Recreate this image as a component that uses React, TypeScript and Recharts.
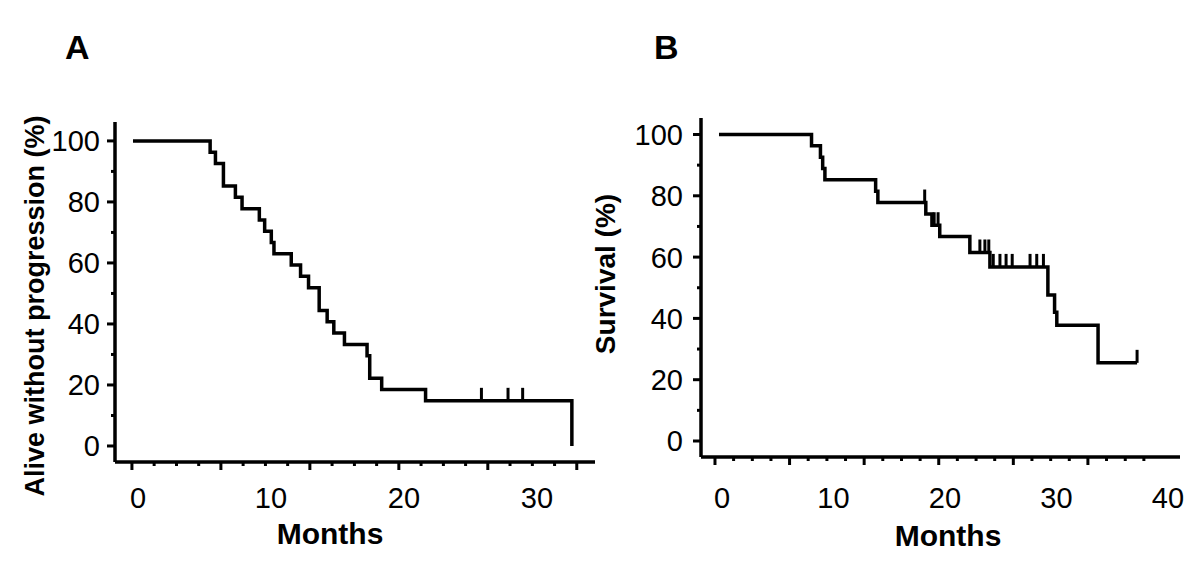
import React from "react";
import { ComposedChart, Line, Scatter, XAxis, YAxis, Label } from "recharts";

const FONT = "'Liberation Sans', Arial, Helvetica, sans-serif";

// Panel A: alive without progression
const pfsMonths = [0, 5.8, 6.2, 6.8, 7.7, 8.2, 9.5, 9.9, 10.4, 10.6, 11.9, 12.6, 13.2, 14.0, 14.6, 15.1, 15.9, 17.6, 17.8, 18.7, 22.0, 33.0];
const pfsPercent = [100, 96.3, 92.6, 85.2, 81.5, 77.8, 74.1, 70.4, 66.7, 63.0, 59.3, 55.6, 51.9, 44.4, 40.7, 37.0, 33.3, 29.6, 22.2, 18.5, 14.8, 0];
const pfsCensorMonths = [26.2, 28.2, 29.3];
const pfsCensorPercent = [14.8, 14.8, 14.8];

// Panel B: survival
const osMonths = [0, 8.3, 9.1, 9.3, 9.5, 14.05, 14.25, 18.55, 19.1, 19.8, 22.5, 24.3, 29.5, 30.1, 30.3, 34.0, 37.5];
const osPercent = [100, 96.3, 92.6, 88.9, 85.2, 81.5, 77.8, 74.1, 70.4, 66.7, 61.5, 56.8, 47.6, 42.0, 37.8, 25.5, 25.5];
const osCensorMonths = [18.45, 19.3, 19.65, 23.4, 23.85, 24.2, 24.6, 25.2, 25.75, 26.3, 27.9, 28.5, 29.1, 37.5];
const osCensorPercent = [77.8, 70.4, 70.4, 61.5, 61.5, 61.5, 56.8, 56.8, 56.8, 56.8, 56.8, 56.8, 56.8, 25.5];

// axes
const yTicks = [0, 10, 20, 30, 40, 50, 60, 70, 80, 90, 100];
const yLabels = [0, 20, 40, 60, 80, 100];
const pfsXLabels = [0, 10, 20, 30];
const pfsMajorMarks = [-0.08, 6.61, 13.3, 19.99, 26.68, 33.37];
const pfsMinorMarks = [1.59, 3.27, 4.94, 8.28, 9.96, 11.63, 14.97, 16.65, 18.32, 21.66, 23.34, 25.01, 28.35, 30.03, 31.7];
const osXLabels = [0, 10, 20, 30, 40];
const osMajorMarks = [-0.36, 6.33, 13.02, 19.71, 26.4, 33.09];
const osMinorMarks = [1.31, 2.99, 4.66, 8.0, 9.68, 11.35, 14.69, 16.37, 18.04, 21.38, 23.06, 24.73, 28.07, 29.75, 31.42, 34.76, 36.44, 38.11];

const toRows = (t: number[], s: number[]) => t.map((m, i) => ({ t: m, s: s[i] }));

const makeYTick = (gap: number) => (props: any) => {
  const { x, y, payload } = props;
  const v = payload.value;
  const major = yLabels.includes(v);
  return (
    <g>
      <line x1={x} x2={x - (major ? 8 : 4)} y1={y} y2={y} stroke="#000" strokeWidth={3} />
      {major && (
        <text x={x - gap} y={y} dy="0.36em" textAnchor="end" fontSize={29} fontFamily={FONT} fill="#000">
          {v}
        </text>
      )}
    </g>
  );
};

const makeXTick = (labels: number[], majors: number[], shift: number, drop: number) => (props: any) => {
  const { x, y, payload } = props;
  const v = payload.value;
  if (labels.includes(v)) {
    return (
      <text x={x + shift} y={y + drop} textAnchor="middle" fontSize={29} fontFamily={FONT} fill="#000">
        {v}
      </text>
    );
  }
  return <line x1={x} x2={x} y1={y} y2={y + (majors.includes(v) ? 8 : 4)} stroke="#000" strokeWidth={3} />;
};

const censorMark = (props: any) => (
  <line x1={props.cx} x2={props.cx} y1={props.cy} y2={props.cy - 13} stroke="#000" strokeWidth={3} />
);

const Panel = ({
  left,
  width,
  top,
  right,
  yAxisWidth,
  xAxisHeight,
  xDomain,
  yDomain,
  curve,
  censored,
  xLabels,
  majors,
  minors,
  labelShift,
  labelDrop,
  yGap,
  yTitle,
  yTitleX,
  yTitleY,
  yTitleSize,
  monthsX,
  monthsY,
}: any) => (
  <div style={{ position: "absolute", left, top: 0 }}>
    <ComposedChart width={width} height={576} margin={{ top, right, bottom: 0, left: 0 }}>
      <XAxis
        dataKey="t"
        type="number"
        domain={xDomain}
        allowDataOverflow
        ticks={[...majors, ...minors, ...xLabels]}
        interval={0}
        tickSize={0}
        tickMargin={0}
        height={xAxisHeight}
        axisLine={{ stroke: "#000", strokeWidth: 3.5 }}
        tickLine={false}
        tick={makeXTick(xLabels, majors, labelShift, labelDrop)}
      >
        <Label
          content={() => (
            <text x={monthsX} y={monthsY} textAnchor="middle" fontSize={30} fontWeight="bold" fontFamily={FONT} fill="#000">
              Months
            </text>
          )}
        />
      </XAxis>
      <YAxis
        type="number"
        domain={yDomain}
        allowDataOverflow
        ticks={yTicks}
        interval={0}
        tickSize={0}
        tickMargin={0}
        width={yAxisWidth}
        axisLine={{ stroke: "#000", strokeWidth: 3.5 }}
        tickLine={false}
        tick={makeYTick(yGap)}
      >
        <Label
          content={() => (
            <text
              x={yTitleX}
              y={yTitleY}
              dy="0.35em"
              textAnchor="middle"
              fontSize={yTitleSize}
              fontWeight="bold"
              fontFamily={FONT}
              fill="#000"
              transform={`rotate(-90 ${yTitleX} ${yTitleY})`}
            >
              {yTitle}
            </text>
          )}
        />
      </YAxis>
      <Line
        data={curve}
        dataKey="s"
        type="stepAfter"
        stroke="#000"
        strokeWidth={3.5}
        strokeLinejoin="miter"
        dot={false}
        isAnimationActive={false}
      />
      <Scatter data={censored} dataKey="s" shape={censorMark} isAnimationActive={false} />
    </ComposedChart>
  </div>
);

export default function App() {
  return (
    <div style={{ position: "absolute", left: 0, top: 0, width: 1200, height: 576, background: "#fff" }}>
      <div style={{ position: "absolute", left: 65, top: 30, fontSize: 34, fontWeight: "bold", fontFamily: FONT, lineHeight: 1 }}>A</div>
      <div style={{ position: "absolute", left: 654, top: 30, fontSize: 34, fontWeight: "bold", fontFamily: FONT, lineHeight: 1 }}>B</div>
      <Panel
        left={0}
        width={600}
        top={122}
        right={5}
        yAxisWidth={115}
        xAxisHeight={114}
        xDomain={[-1.353, 34.74]}
        yDomain={[-5.25, 106.2]}
        curve={toRows(pfsMonths, pfsPercent)}
        censored={toRows(pfsCensorMonths, pfsCensorPercent)}
        xLabels={pfsXLabels}
        majors={pfsMajorMarks}
        minors={pfsMinorMarks}
        labelShift={5}
        labelDrop={46}
        yGap={15}
        yTitle="Alive without progression (%)"
        yTitleX={35}
        yTitleY={306}
        yTitleSize={27}
        monthsX={330}
        monthsY={544}
      />
      <Panel
        left={560}
        width={640}
        top={118}
        right={20}
        yAxisWidth={141}
        xAxisHeight={119}
        xDomain={[-1.614, 41.35]}
        yDomain={[-5.22, 105.38]}
        curve={toRows(osMonths, osPercent)}
        censored={toRows(osCensorMonths, osCensorPercent)}
        xLabels={osXLabels}
        majors={osMajorMarks}
        minors={osMinorMarks}
        labelShift={3}
        labelDrop={51}
        yGap={18}
        yTitle="Survival (%)"
        yTitleX={45}
        yTitleY={274}
        yTitleSize={28}
        monthsX={388}
        monthsY={546}
      />
    </div>
  );
}
